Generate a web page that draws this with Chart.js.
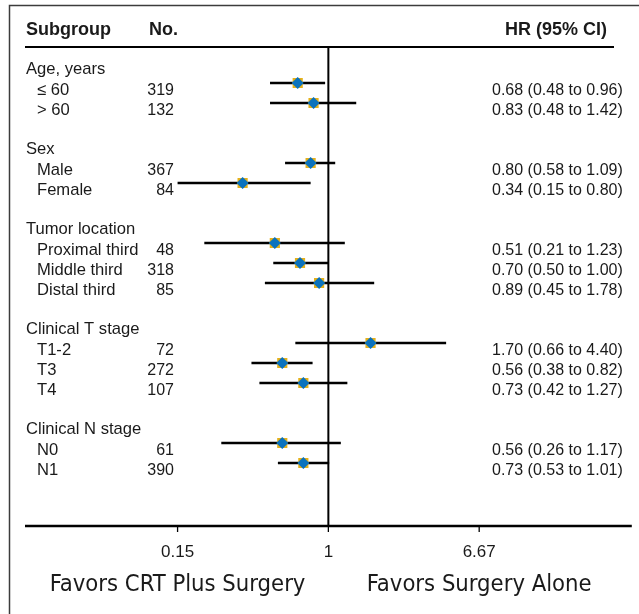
<!DOCTYPE html>
<html>
<head>
<meta charset="utf-8">
<script src="https://cdn.jsdelivr.net/npm/chart.js@4.4.1/dist/chart.umd.min.js"></script>
<style>
  html, body { margin: 0; padding: 0; background: #fff; }
  #wrap { position: relative; width: 639px; height: 614px; }
</style>
</head>
<body>
<div id="wrap"><canvas id="forest" width="639" height="614"></canvas></div>
<script>
// forest plot data
const headings = ["Age, years", "Sex", "Tumor location", "Clinical T stage", "Clinical N stage"];
const groupSizes = [2, 2, 3, 3, 2];
const subgroups = ["≤ 60", "> 60", "Male", "Female", "Proximal third", "Middle third", "Distal third", "T1-2", "T3", "T4", "N0", "N1"];
const counts = [319, 132, 367, 84, 48, 318, 85, 72, 272, 107, 61, 390];
const hr = [0.68, 0.83, 0.80, 0.34, 0.51, 0.70, 0.89, 1.70, 0.56, 0.73, 0.56, 0.73];
const lower = [0.48, 0.48, 0.58, 0.15, 0.21, 0.50, 0.45, 0.66, 0.38, 0.42, 0.26, 0.53];
const upper = [0.96, 1.42, 1.09, 0.80, 1.23, 1.00, 1.78, 4.40, 0.82, 1.27, 1.17, 1.01];
const xTicks = [0.15, 1, 6.67];
const xRange = [0.022, 45.5];
const favors = ["Favors CRT Plus Surgery", "Favors Surgery Alone"];

// row index for every heading and subgroup (heading, items, blank line)
const headingRows = [];
const itemRows = [];
let r = 0;
groupSizes.forEach((n) => {
  headingRows.push(r);
  for (let k = 1; k <= n; k++) itemRows.push(r + k);
  r += n + 2;
});

const ORANGE = "#e5b11a";
const BLUE = "#0a72bd";
const INK = "#1a1a1a";

// one line dataset per CI
const ciSets = itemRows.map((row, i) => ({
  data: [{ x: lower[i], y: row }, { x: upper[i], y: row }],
  showLine: true,
  borderColor: "#000",
  borderWidth: 2.6,
  pointRadius: 0,
  order: 3,
}));

const forestText = {
  id: "forestText",
  beforeDraw(chart) {
    const ctx = chart.ctx;
    ctx.save();
    ctx.strokeStyle = "#3c3c3c";
    ctx.lineWidth = 1.5;
    ctx.strokeRect(9.5, 5.5, 700, 700);
    ctx.restore();
  },
  beforeDatasetsDraw(chart) {
    const { ctx, chartArea, scales } = chart;
    const x1 = scales.x.getPixelForValue(1);
    ctx.save();
    ctx.strokeStyle = "#000";
    ctx.lineWidth = 2;
    ctx.beginPath();
    ctx.moveTo(x1, chartArea.top);
    ctx.lineTo(x1, chartArea.bottom);
    ctx.stroke();
    ctx.restore();
  },
  afterDatasetsDraw(chart) {
    const { ctx, chartArea, scales } = chart;
    const xs = scales.x, ys = scales.y;
    ctx.save();
    ctx.fillStyle = INK;
    ctx.textBaseline = "alphabetic";

    // header
    ctx.font = "bold 18px 'Liberation Sans', Arial, sans-serif";
    ctx.textAlign = "left";
    ctx.fillText("Subgroup", 26, 35);
    ctx.fillText("No.", 149, 35);
    ctx.textAlign = "right";
    ctx.fillText("HR (95% CI)", 607, 35);
    ctx.strokeStyle = "#000";
    ctx.lineWidth = 2;
    ctx.beginPath();
    ctx.moveTo(25, chartArea.top);
    ctx.lineTo(614, chartArea.top);
    ctx.stroke();

    // rows
    const labelFont = "16.6px 'Liberation Sans', Arial, sans-serif";
    const numFont = "16px 'Liberation Sans', Arial, sans-serif";
    ctx.font = labelFont;
    ctx.textAlign = "left";
    headings.forEach((h, i) => {
      ctx.fillText(h, 26, ys.getPixelForValue(headingRows[i]) + 11);
    });
    itemRows.forEach((row, i) => {
      const y = ys.getPixelForValue(row) + 11.5;
      ctx.font = labelFont;
      ctx.textAlign = "left";
      ctx.fillText(subgroups[i], 37, y);
      ctx.font = numFont;
      ctx.textAlign = "right";
      ctx.fillText(String(counts[i]), 174, y);
      ctx.textAlign = "left";
      ctx.fillText(
        `${hr[i].toFixed(2)} (${lower[i].toFixed(2)} to ${upper[i].toFixed(2)})`,
        492,
        y
      );
    });

    // x axis
    const yAxis = chartArea.bottom;
    ctx.lineWidth = 2.5;
    ctx.beginPath();
    ctx.moveTo(chartArea.left, yAxis);
    ctx.lineTo(chartArea.right, yAxis);
    ctx.stroke();
    ctx.lineWidth = 1.3;
    ctx.font = "17px 'Liberation Sans', Arial, sans-serif";
    ctx.textAlign = "center";
    xTicks.forEach((t) => {
      const px = xs.getPixelForValue(t);
      ctx.beginPath();
      ctx.moveTo(px, yAxis);
      ctx.lineTo(px, yAxis + 6);
      ctx.stroke();
      ctx.fillText(String(t), px, 557);
    });

    // favors labels under outer ticks
    ctx.font = "23.6px 'DejaVu Sans Condensed', 'Liberation Sans Narrow', sans-serif";
    ctx.fillText(favors[0], xs.getPixelForValue(xTicks[0]), 591);
    ctx.fillText(favors[1], xs.getPixelForValue(xTicks[2]), 591);
    ctx.restore();
  },
};

new Chart(document.getElementById("forest"), {
  type: "scatter",
  data: {
    datasets: [
      ...ciSets,
      {
        data: itemRows.map((row, i) => ({ x: hr[i], y: row })),
        pointStyle: "rect",
        pointRadius: 7.2,
        backgroundColor: ORANGE,
        borderWidth: 0,
        order: 2,
      },
      {
        data: itemRows.map((row, i) => ({ x: hr[i], y: row })),
        pointStyle: "rectRot",
        pointRadius: 6,
        backgroundColor: BLUE,
        borderWidth: 0,
        order: 1,
      },
    ],
  },
  options: {
    responsive: false,
    animation: false,
    layout: { padding: { left: 25, right: 6, top: 47, bottom: 88 } },
    scales: {
      x: { type: "logarithmic", min: xRange[0], max: xRange[1], display: false },
      y: { type: "linear", min: -0.8, max: 23.15, reverse: true, display: false },
    },
    plugins: { legend: { display: false }, tooltip: { enabled: false } },
  },
  plugins: [forestText],
});
</script>
</body>
</html>
